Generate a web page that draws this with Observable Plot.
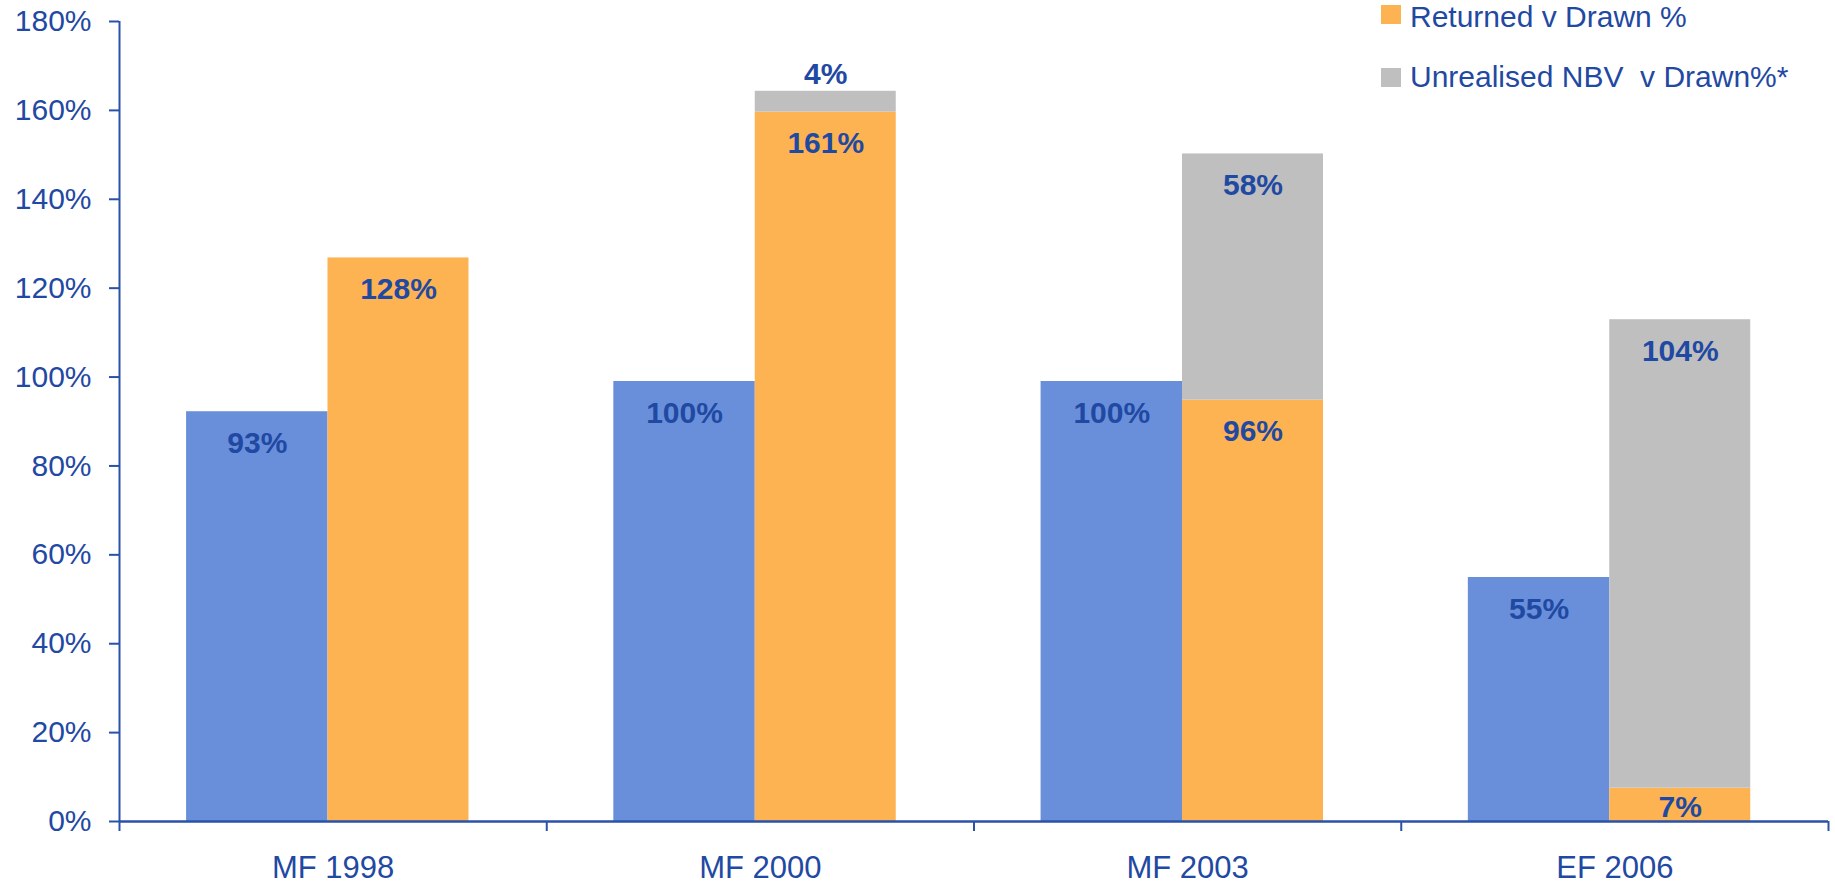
<!DOCTYPE html>
<html>
<head>
<meta charset="utf-8">
<script src="https://cdn.jsdelivr.net/npm/d3@7"></script>
<script src="https://cdn.jsdelivr.net/npm/@observablehq/plot@0.6"></script>
<style>
  html, body { margin: 0; padding: 0; background: #fff; }
  #wrap { position: relative; width: 1835px; height: 884px; font-family: "Liberation Sans", Arial, sans-serif; }
  .leg { position: absolute; left: 1381px; display: flex; align-items: flex-start; }
  .sw { position: absolute; width: 20px; height: 19px; }
  .lt { position: absolute; left: 1410px; font-size: 30px; line-height: 30px; color: #1F49A2; white-space: pre; }
</style>
</head>
<body>
<div id="wrap"></div>
<script>
// ---- data ----
const categories = ["MF 1998", "MF 2000", "MF 2003", "EF 2006"];
const drawn = [92.2, 99.0, 99.0, 54.9];
const drawnLabels = ["93%", "100%", "100%", "55%"];
const returned = [126.8, 159.6, 94.8, 7.5];
const returnedLabels = ["128%", "161%", "96%", "7%"];
const unrealised = [0, 4.7, 55.4, 105.4];
const unrealisedLabels = [null, "4%", "58%", "104%"];
const yTicks = [0, 20, 40, 60, 80, 100, 120, 140, 160, 180];
const legendItems = ["Returned v Drawn %", "Unrealised NBV  v Drawn%*"];

// ---- styling ----
const cBlue = "#6A8FDA", cOrange = "#FDB351", cGray = "#BFBFBF";
const cText = "#1F49A2", cAxis = "#2A52A8";
const font = "'Liberation Sans', Arial, sans-serif";
const b0 = 0.157, b1 = 0.488, b2 = 0.818;

const rows = categories.map((c, i) => ({
  i, c,
  drawn: drawn[i], drawnLabel: drawnLabels[i],
  ret: returned[i], retLabel: returnedLabels[i],
  unr: unrealised[i], unrLabel: unrealisedLabels[i],
  total: returned[i] + unrealised[i]
}));

const textOpts = {fill: cText, fontSize: 30, fontWeight: "bold", lineAnchor: "bottom", fontFamily: font};

const chart = Plot.plot({
  width: 1835,
  height: 884,
  marginLeft: 119,
  marginRight: 7,
  marginTop: 21,
  marginBottom: 63,
  style: {fontFamily: font, background: "#fff", overflow: "visible"},
  x: {type: "linear", domain: [0, 4]},
  y: {domain: [0, 180]},
  marks: [
    Plot.rectY(rows, {x1: d => d.i + b0, x2: d => d.i + b1, y1: 0, y2: "drawn", fill: cBlue}),
    Plot.rectY(rows, {x1: d => d.i + b1, x2: d => d.i + b2, y1: 0, y2: "ret", fill: cOrange}),
    Plot.rectY(rows.filter(d => d.unr > 0), {x1: d => d.i + b1, x2: d => d.i + b2, y1: "ret", y2: "total", fill: cGray}),
    // labels
    Plot.text(rows, {x: d => d.i + (b0 + b1) / 2, y: "drawn", text: "drawnLabel", dy: 41, ...textOpts}),
    Plot.text(rows.filter(d => d.ret >= 10), {x: d => d.i + (b1 + b2) / 2, y: "ret", text: "retLabel", dy: 41, ...textOpts}),
    Plot.text(rows.filter(d => d.ret < 10), {x: d => d.i + (b1 + b2) / 2, y: "ret", text: "retLabel", dy: 29, ...textOpts}),
    Plot.text(rows.filter(d => d.unr >= 10), {x: d => d.i + (b1 + b2) / 2, y: "total", text: "unrLabel", dy: 41, ...textOpts}),
    Plot.text(rows.filter(d => d.unr > 0 && d.unr < 10), {x: d => d.i + (b1 + b2) / 2, y: "total", text: "unrLabel", dy: -7, ...textOpts}),
    // axes
    Plot.axisY(yTicks, {tickFormat: d => d + "%", tickSize: 10, tickPadding: 18, fontSize: 30, color: cText, stroke: cAxis, strokeWidth: 2, fontFamily: font}),
    Plot.axisX(d3.range(categories.length + 1), {tickFormat: () => "", tickSize: 10, stroke: cAxis, strokeWidth: 2}),
    Plot.axisX(categories.map((c, i) => i + 0.5), {tickFormat: d => categories[Math.floor(d)], tickSize: 0, tickPadding: 34, fontSize: 31, color: cText, fontFamily: font}),
    Plot.ruleX([0], {stroke: cAxis, strokeWidth: 2}),
    Plot.ruleY([0], {stroke: cAxis, strokeWidth: 2.5})
  ]
});

const wrap = document.getElementById("wrap");
wrap.appendChild(chart);
chart.style.position = "absolute";
chart.style.left = "0px";
chart.style.top = "0px";

// legend overlay (top right)
const legColors = [cOrange, cGray];
const swTops = [5, 68];
const txtTops = [1.5, 62];
legendItems.forEach((t, k) => {
  const sw = document.createElement("div");
  sw.className = "sw";
  sw.style.left = "1381px";
  sw.style.top = swTops[k] + "px";
  sw.style.background = legColors[k];
  wrap.appendChild(sw);
  const tx = document.createElement("div");
  tx.className = "lt";
  tx.style.top = txtTops[k] + "px";
  tx.textContent = t;
  wrap.appendChild(tx);
});
</script>
</body>
</html>
